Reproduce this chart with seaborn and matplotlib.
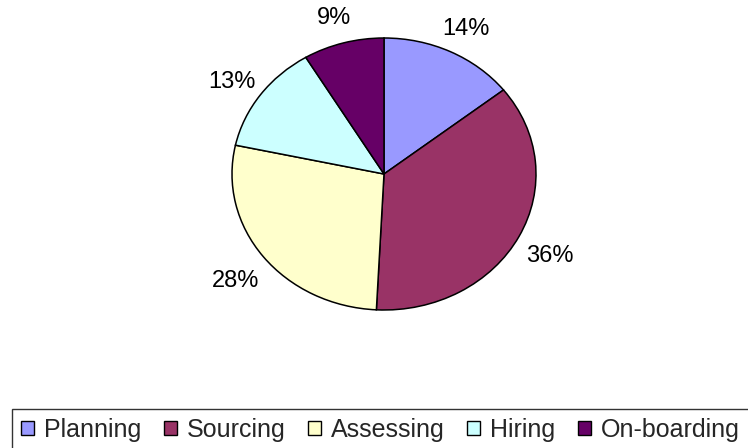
import matplotlib
matplotlib.use("Agg")
import matplotlib.pyplot as plt
import matplotlib.transforms as mtransforms
import seaborn as sns

categories = ["Planning", "Sourcing", "Assessing", "Hiring", "On-boarding"]
values = [14.4, 36.4, 27.6, 13.0, 8.6]
colors = ["#9999FF", "#993366", "#FFFFCC", "#CCFFFF", "#660066"]

sns.set_theme(style="white")
plt.rcParams["font.family"] = ["Liberation Sans", "DejaVu Sans"]

W, H = 748, 448
fig = plt.figure(figsize=(W / 100, H / 100), dpi=100)
ax = fig.add_axes([0, 0, 1, 1])

# pie centre and radii in pixels (elliptical pie)
cx, cy, rx, ry = 384, 174, 152, 136

palette = sns.color_palette(colors)
wedges, texts, autotexts = ax.pie(
    values,
    colors=palette,
    startangle=90,
    counterclock=False,
    autopct=lambda p: f"{p:.0f}%",
    pctdistance=1.23,
    wedgeprops=dict(edgecolor="black", linewidth=1.1),
    textprops=dict(fontsize=17, color="black"),
)
shift = mtransforms.offset_copy(ax.transData, fig=fig, x=0, y=-5, units="dots")
for t in autotexts:
    t.set_transform(shift)
ax.set_aspect("auto")
ax.set_xlim(-cx / rx, (W - cx) / rx)
ax.set_ylim(-(H - cy) / ry, cy / ry)
ax.axis("off")

leg = fig.legend(
    wedges,
    categories,
    loc="upper left",
    bbox_to_anchor=(12 / W, 1 - 409 / H),
    ncol=5,
    fontsize=18,
    frameon=True,
    fancybox=False,
    edgecolor="black",
    handlelength=0.52,
    handleheight=0.52,
    handletextpad=0.42,
    columnspacing=0.88,
    borderpad=0.35,
    borderaxespad=0,
)
leg.get_frame().set_linewidth(1.0)
for h in leg.legend_handles:
    h.set_edgecolor("black")
    h.set_linewidth(1.0)

fig.savefig("out.png", dpi=100, facecolor="white")
